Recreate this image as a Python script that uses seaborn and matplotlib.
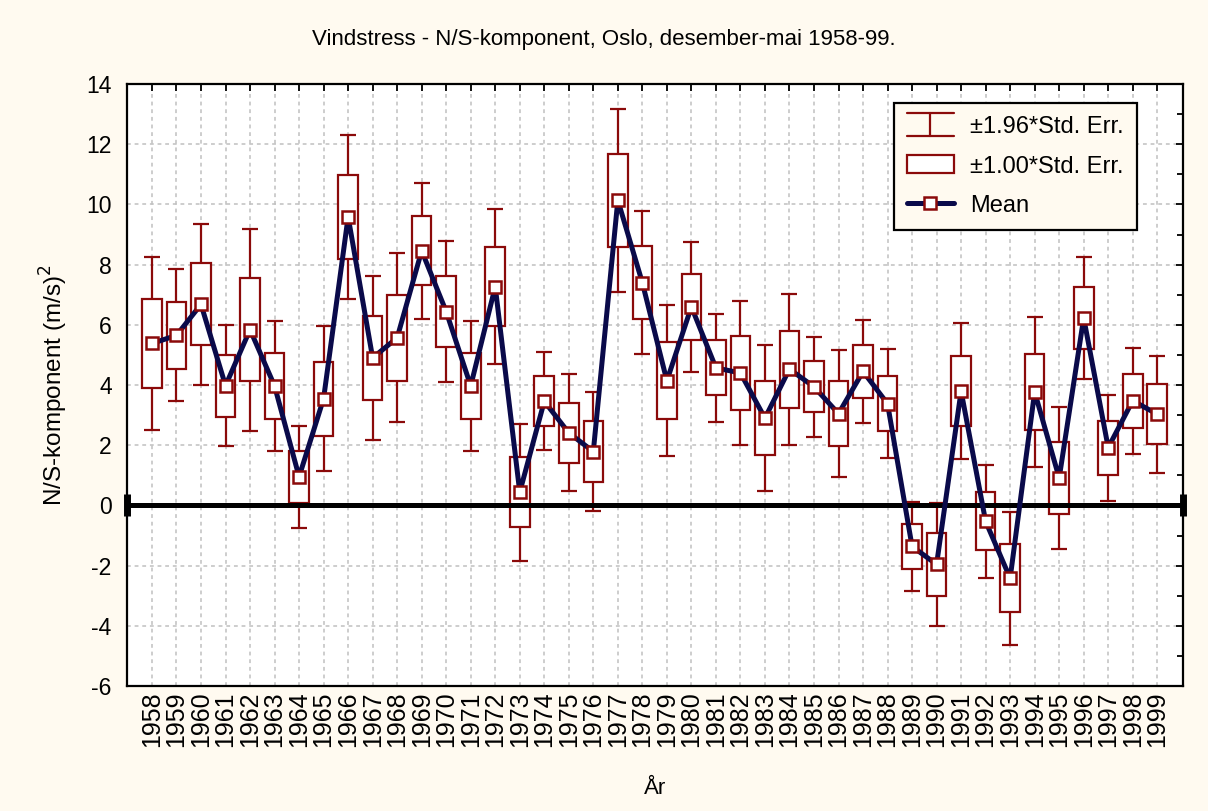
import numpy as np
import pandas as pd
import matplotlib
matplotlib.use("Agg")
import matplotlib.pyplot as plt
import seaborn as sns
from matplotlib.patches import Patch
from matplotlib.lines import Line2D
from matplotlib.legend_handler import HandlerBase

years = list(range(1958, 2000))
means = [5.38, 5.65, 6.68, 3.98, 5.84, 3.97, 0.95, 3.55, 9.59, 4.90,
         5.57, 8.46, 6.44, 3.97, 7.27, 0.44, 3.46, 2.41, 1.79, 10.14,
         7.40, 4.14, 6.60, 4.57, 4.40, 2.90, 4.53, 3.94, 3.05, 4.45,
         3.38, -1.36, -1.96, 3.80, -0.53, -2.42, 3.77, 0.91, 6.23, 1.92,
         3.48, 3.03]
std_err = [1.47, 1.12, 1.36, 1.03, 1.71, 1.10, 0.87, 1.23, 1.39, 1.39,
           1.43, 1.15, 1.19, 1.10, 1.31, 1.16, 0.83, 0.99, 1.01, 1.55,
           1.21, 1.28, 1.10, 0.91, 1.22, 1.24, 1.28, 0.85, 1.07, 0.87,
           0.92, 0.75, 1.04, 1.16, 0.96, 1.13, 1.27, 1.20, 1.03, 0.90,
           0.90, 0.99]
year_labels = [str(y) for y in years]
legend_labels = ["±1.96*Std. Err.", "±1.00*Std. Err.", "Mean"]

df = pd.DataFrame({"year": years, "mean": means, "se": std_err})
df["pos"] = np.arange(len(df))

maroon = "#8B0A0A"
navy = "#0A0A4A"
cream = "#FFFAF0"

sns.set_style("white")
plt.rcParams["font.family"] = ["Liberation Sans", "DejaVu Sans"]
plt.rcParams["axes.unicode_minus"] = False
plt.rcParams["text.color"] = "black"
plt.rcParams["axes.labelcolor"] = "black"
plt.rcParams["xtick.color"] = "black"
plt.rcParams["ytick.color"] = "black"


class WhiskerHandler(HandlerBase):
    def create_artists(self, legend, orig_handle, xdescent, ydescent,
                       width, height, fontsize, trans):
        h = height * 1.25
        y0 = (height - h) / 2
        x0, x1 = -xdescent, -xdescent + width
        xm = (x0 + x1) / 2
        kw = dict(color=maroon, lw=1.6, transform=trans)
        return [Line2D([x0, x1], [y0, y0], **kw),
                Line2D([x0, x1], [y0 + h, y0 + h], **kw),
                Line2D([xm, xm], [y0, y0 + h], **kw)]


fig = plt.figure(figsize=(12.08, 8.11), dpi=100, facecolor=cream)
ax = fig.add_axes([0.1051, 0.1541, 0.8742, 0.7423])
ax.set_facecolor("white")

# whiskers (±1.96*SE)
eb = ax.errorbar(df["pos"], df["mean"], yerr=1.96 * df["se"], fmt="none",
                 ecolor=maroon, elinewidth=1.6, capsize=6, capthick=1.6, zorder=2)
# boxes (±1.00*SE)
ax.bar(df["pos"], 2 * df["se"], bottom=df["mean"] - df["se"], width=0.8,
       facecolor="white", edgecolor=maroon, linewidth=1.6, zorder=3)

ax.axhline(0, color="black", lw=3.6, zorder=3.5)

sns.lineplot(data=df, x="pos", y="mean", ax=ax, color=navy, lw=3.6,
             marker="s", markersize=9, markerfacecolor="white",
             markeredgecolor=maroon, markeredgewidth=1.8, zorder=5)

xlim = (-1.02, 42.05)
ax.set_xlim(*xlim)
ax.set_ylim(-6, 14)
ax.plot(list(xlim), [0, 0], ls="none", marker="|", ms=16, mew=5,
        color="black", clip_on=False, zorder=6)

ax.set_xticks(df["pos"])
ax.set_xticklabels(year_labels, rotation=90, fontsize=18)
ax.set_yticks(np.arange(-6, 15, 2))
ax.set_yticks(np.arange(-6, 15, 1), minor=True)
ax.tick_params(axis="y", labelsize=16.5, pad=11)
ax.tick_params(axis="x", pad=4)
ax.tick_params(which="both", direction="in", top=True, right=True,
               length=5, width=1.3, color="black")
ax.tick_params(which="minor", length=4)

ax.grid(True, which="major", color="#C0C0C0", ls=(0, (2.5, 2.5)), lw=1.1)
ax.set_axisbelow(True)
for s in ax.spines.values():
    s.set_color("black")
    s.set_linewidth(1.6)

ax.set_xlabel("År", fontsize=16, labelpad=22)
ax.set_ylabel("N/S-komponent (m/s)$^2$", fontsize=17.5, labelpad=12)
fig.text(0.5, 0.951, "Vindstress - N/S-komponent, Oslo, desember-mai 1958-99.",
         ha="center", va="center", fontsize=16)

handles = [eb, Patch(facecolor="white", edgecolor=maroon, linewidth=1.6),
           Line2D([], [], color=navy, lw=3.6, marker="s", markersize=9,
                  markerfacecolor="white", markeredgecolor=maroon, markeredgewidth=1.8)]
leg = ax.legend(handles, legend_labels, loc="upper right",
                bbox_to_anchor=(0.9564, 0.9684), borderaxespad=0,
                fontsize=17, frameon=True, fancybox=False, framealpha=1,
                facecolor=cream, edgecolor="black", handlelength=2.0,
                handleheight=0.8, handletextpad=0.7, borderpad=0.55,
                labelspacing=0.72, handler_map={type(eb): WhiskerHandler()})
leg.get_frame().set_linewidth(1.6)

fig.savefig("out.png", dpi=100, facecolor=cream)
